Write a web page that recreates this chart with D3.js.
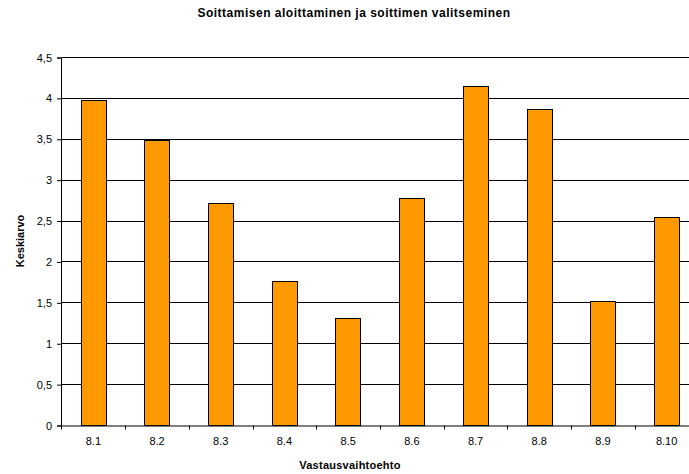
<!DOCTYPE html>
<html>
<head>
<meta charset="utf-8">
<script src="https://cdn.jsdelivr.net/npm/d3@7"></script>
<style>
  body { margin: 0; background: #fff; }
  svg { display: block; font-family: "Liberation Sans", Arial, sans-serif; }
  .tick text { font-size: 11px; fill: #000; }
</style>
</head>
<body>
<svg id="chart" width="689" height="474"></svg>
<script>
// values
var categories = ["8.1", "8.2", "8.3", "8.4", "8.5", "8.6", "8.7", "8.8", "8.9", "8.10"];
var meanValues = [3.97, 3.49, 2.71, 1.76, 1.31, 2.77, 4.14, 3.87, 1.52, 2.54];
var yTicks = [0, 0.5, 1, 1.5, 2, 2.5, 3, 3.5, 4, 4.5];

var svg = d3.select("#chart");

// plot area (runs a bit past the right edge, like the original)
var plotLeft = 61.5, plotRight = 698.5, plotTop = 57, plotBottom = 425;

var x = d3.scaleBand()
    .domain(categories)
    .range([plotLeft, plotRight])
    .paddingInner(0.6)
    .paddingOuter(0.3);

var y = d3.scaleLinear()
    .domain([0, 4.5])
    .range([plotBottom, plotTop]);

var fmt = function(d) { return String(d).replace(".", ","); };

// gridlines
svg.append("g")
    .selectAll("line")
    .data(yTicks.filter(function(d) { return d > 0; }))
    .enter().append("line")
    .attr("x1", plotLeft)
    .attr("x2", plotRight)
    .attr("y1", function(d) { return Math.round(y(d)) + 0.5; })
    .attr("y2", function(d) { return Math.round(y(d)) + 0.5; })
    .attr("stroke", "#000")
    .attr("stroke-width", 1);

// bars
svg.append("g")
    .selectAll("rect")
    .data(meanValues)
    .enter().append("rect")
    .attr("x", function(d, i) { return Math.round(x(categories[i])) + 0.5; })
    .attr("y", function(d) { return Math.round(y(d)) + 0.5; })
    .attr("width", Math.round(x.bandwidth()))
    .attr("height", function(d) { return Math.round(y(0)) - Math.round(y(d)); })
    .attr("fill", "#ff9900")
    .attr("stroke", "#000")
    .attr("stroke-width", 1);

// y axis
var yAxis = svg.append("g")
    .attr("transform", "translate(" + (plotLeft - 0.5) + ",0.5)")
    .call(d3.axisLeft(y).tickValues(yTicks).tickFormat(fmt).tickSize(4).tickPadding(5));
yAxis.selectAll("path, line").attr("stroke", "#000");

// x axis: ticks sit between the categories
var xAxis = svg.append("g")
    .attr("transform", "translate(0," + (plotBottom + 0.5) + ")")
    .call(d3.axisBottom(x).tickSize(0).tickPadding(12).tickSizeOuter(0));
xAxis.select(".domain").attr("stroke", "#000");
xAxis.selectAll(".tick line").remove();
xAxis.selectAll(".sep")
    .data(categories)
    .enter().append("line")
    .attr("class", "sep")
    .attr("x1", function(d) { return Math.round(x(d) - x.step() * 0.3) + 0.5; })
    .attr("x2", function(d) { return Math.round(x(d) - x.step() * 0.3) + 0.5; })
    .attr("y1", 0)
    .attr("y2", 4)
    .attr("stroke", "#000");

// title and axis labels
svg.append("text")
    .attr("x", 354)
    .attr("y", 17)
    .attr("text-anchor", "middle")
    .style("font-size", "12px")
    .style("letter-spacing", "0.5px")
    .style("font-weight", "bold")
    .text("Soittamisen aloittaminen ja soittimen valitseminen");

svg.append("text")
    .attr("x", 350)
    .attr("y", 469)
    .attr("text-anchor", "middle")
    .style("font-size", "11px")
    .style("letter-spacing", "0.25px")
    .style("font-weight", "bold")
    .text("Vastausvaihtoehto");

svg.append("text")
    .attr("transform", "translate(24,241) rotate(-90)")
    .attr("text-anchor", "middle")
    .style("font-size", "11px")
    .style("font-weight", "bold")
    .text("Keskiarvo");
</script>
</body>
</html>
